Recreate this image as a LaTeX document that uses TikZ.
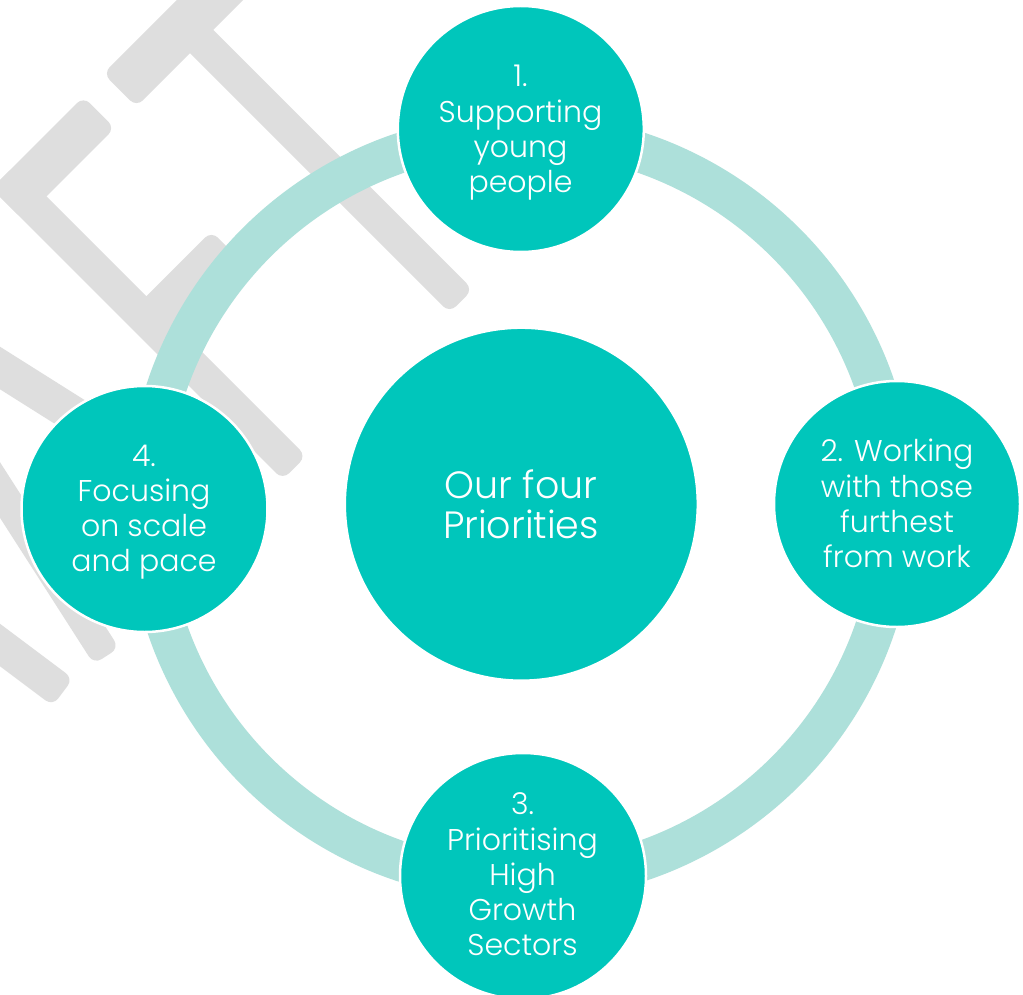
\documentclass[tikz,border=0pt]{standalone}
\usepackage{fontspec}
\setmainfont{Poppins}[UprightFont=* Light]
\usetikzlibrary{calc}
\definecolor{tealfill}{RGB}{0,198,187}
\definecolor{ringc}{RGB}{173,224,218}
\definecolor{wmgray}{RGB}{222,222,222}
% a straight watermark stroke of half width #3 from #1 to #2
\newcommand\wmstroke[3]{\fill[wm] ($(#1)!#3!90:(#2)$) -- ($(#2)!#3!-90:(#1)$) -- ($(#2)!#3!90:(#1)$) -- ($(#1)!#3!-90:(#2)$) -- cycle;}
\begin{document}
\begin{tikzpicture}[x=1pt,y=-1pt,
  bubble/.style={circle, fill=tealfill, draw=white, line width=2.5pt, inner sep=0pt},
  caption/.style={text=white, align=center, inner sep=0pt, font=\fontsize{30}{35.2}\selectfont},
  bigcaption/.style={text=white, align=center, inner sep=0pt, font=\fontsize{38}{40.5}\selectfont},
  wm/.style={fill=wmgray, rounded corners=9pt},
  ring/.style={draw=ringc, line width=40pt}]
\clip (0,0) rectangle (1023,995);
\fill[white] (0,0) rectangle (1023,995);

% faint diagonal lettering in the background (drawn in a frame turned by 45 degrees)
\begin{scope}[x={(0.70711pt,-0.70711pt)}, y={(0.70711pt,0.70711pt)}]
  % T
  \fill[wm] (125,21) -- (172,21) -- (172,215) -- (125,215) -- cycle;
  \fill[wm] (150,96.7) -- (539,96.7) -- (539,129.6) -- (150,129.6) -- cycle;
  % F
  \fill[wm] (127.3,-139.3) -- (539,-139.3) -- (539,-106) -- (127.3,-106) -- cycle;
  \fill[wm] (127.3,-139.3) -- (171.8,-139.3) -- (171.8,-9.4) -- (127.3,-9.4) -- cycle;
  \fill[wm] (313,-125) -- (353,-125) -- (353,-14) -- (313,-14) -- cycle;
\end{scope}
% A and R strokes
\coordinate (aL1) at (-80,317.6);
\coordinate (aL1e) at (242,520.5);
\coordinate (aL2) at (-50,412);
\coordinate (aL2e) at (106.4,656);
\coordinate (rL) at (-80,585);
\coordinate (rLe) at (62.9,692.2);
\wmstroke{aL1}{aL1e}{18pt}
\wmstroke{aL2}{aL2e}{15pt}
\wmstroke{rL}{rLe}{17pt}

% cycle ring
\coordinate (hub) at (521,507);
\draw[ring] (hub) circle[radius=374];

% circles
\node[bubble, minimum size=353pt] (core) at (521.3,504.2) {};
\node[bubble, minimum size=246pt] (p1) at (520.8,129) {};
\node[bubble, minimum size=246pt] (p2) at (897,504) {};
\node[bubble, minimum size=246pt] (p3) at (523,876) {};
\node[bubble, minimum size=246pt] (p4) at (144.5,509) {};

% texts
\node[bigcaption] (t0) at (521,504.2) {Our four\\Priorities};
\node[caption] (t1) at (520.5,132.8) {1.\\Supporting\\young\\people};
\node[caption] (t2) at (897,503.5) {2. Working\\with those\\furthest\\from work};
\node[caption] (t3) at (522.5,874.5) {3.\\Prioritising\\High\\Growth\\Sectors};
\node[caption] (t4) at (144,512) {4.\\Focusing\\on scale\\and pace};
\end{tikzpicture}
\end{document}
